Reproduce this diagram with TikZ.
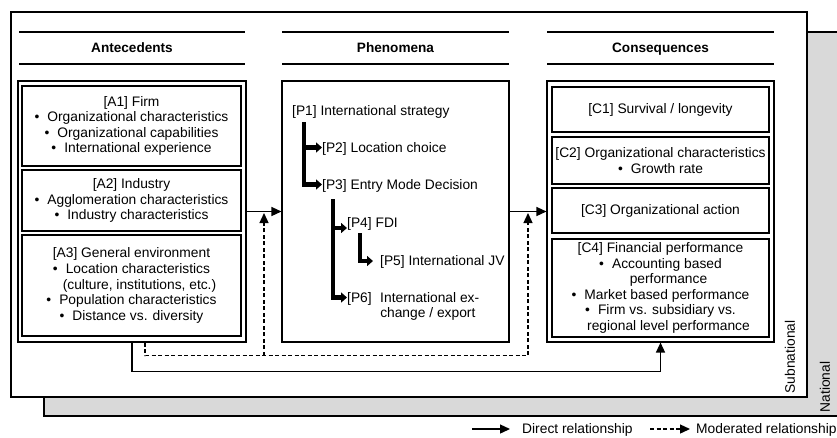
\documentclass[tikz,border=0pt]{standalone}
\usepackage{fontspec}
\setmainfont{Liberation Sans}
\usetikzlibrary{arrows.meta,calc}
\definecolor{natgray}{RGB}{217,217,217}
\newcommand{\mybul}{\textbullet\hspace{8pt}}
\tikzset{
 txt/.style={font=\fontsize{13.8}{15.6}\selectfont, inner sep=0pt},
 hdr/.style={font=\fontsize{13.6}{15.6}\selectfont\bfseries, inner sep=0pt, anchor=base},
 frame/.style={draw, line width=1.1pt, inner sep=0pt},
 ibox/.style={frame, txt, align=center, minimum width=219pt},
 cbox/.style={frame, txt, align=center, minimum width=217pt},
 arr/.style={line width=1.3pt, -{Triangle[length=10pt,width=9pt]}},
 modarr/.style={line width=1.3pt, dash pattern=on 4pt off 2.5pt, -{Triangle[length=10pt,width=9pt]}},
 bar/.style={line width=4.5pt, -{Triangle[length=6pt,width=10pt]}},
 hline/.style={line width=1.3pt},
}
\begin{document}
\begin{tikzpicture}[x=1pt,y=-1pt]
\useasboundingbox (0,0) rectangle (837,437);
% levels
\draw[line width=1.1pt, fill=natgray] (44,32) rectangle (845,416);
\draw[line width=1.1pt, fill=white] (11,12) rectangle (807,397);
\node[txt, rotate=90] (sub) at (790,357) {Subnational};
\node[txt, rotate=90] (nat) at (825,387) {National};
% headers
\draw[hline] (19,32) -- (245,32);
\draw[hline] (19,64) -- (245,64);
\draw[hline] (282,32) -- (509,32);
\draw[hline] (282,64) -- (509,64);
\draw[hline] (547,32) -- (774,32);
\draw[hline] (547,64) -- (774,64);
\node[hdr] (hA) at (132,52) {Antecedents};
\node[hdr] (hP) at (395.5,52) {Phenomena};
\node[hdr] (hC) at (660.5,52) {Consequences};
% antecedents
\node[frame, minimum width=228pt, minimum height=261pt] (ante) at (132,211.5) {};
\node[ibox, minimum height=80pt] (a1) at (131.5,126) {[A1] Firm\\ \mybul Organizational characteristics\\ \mybul Organizational capabilities\\ \mybul International experience};
\node[ibox, minimum height=61pt] (a2) at (131.5,200.5) {[A2] Industry\\ \mybul Agglomeration characteristics\\ \mybul Industry characteristics};
\node[ibox, minimum height=101pt] (a3) at (131.5,285.5) {[A3] General environment\\ \mybul Location characteristics\\ \hspace*{16pt}(culture, institutions, etc.)\\ \mybul Population characteristics\\ \mybul Distance vs. diversity};
% phenomena
\node[frame, minimum width=227pt, minimum height=261pt] (phen) at (395.5,211.5) {};
\node[txt, anchor=base west] (p1) at (292,115) {[P1] International strategy};
\node[txt, anchor=base west] (p2) at (322,152) {[P2] Location choice};
\node[txt, anchor=base west] (p3) at (322,189) {[P3] Entry Mode Decision};
\node[txt, anchor=base west] (p4) at (347,227) {[P4] FDI};
\node[txt, anchor=base west] (p5) at (380,265) {[P5] International JV};
\node[txt, anchor=base west] (p6) at (347,302) {[P6]\hspace{8.5pt}\begin{tabular}[t]{@{}l@{}}International ex-\\change / export\end{tabular}};
\coordinate (b1) at ([xshift=12pt,yshift=-4pt]p1.south west);
\coordinate (t2) at ([yshift=4.5pt]p2.base west);
\coordinate (t3) at ([yshift=4.5pt]p3.base west);
\draw[bar] (b1) |- (t3);
\draw[bar] (b1 |- t2) -- (t2);
\coordinate (b2) at ([xshift=11pt,yshift=-7pt]p3.south west);
\coordinate (t4) at ([yshift=-1pt]p4.base west);
\coordinate (t6) at ([yshift=4.5pt]p6.base west);
\draw[bar] (b2) |- (t6);
\draw[bar] (b2 |- t4) -- (t4);
\coordinate (b3) at ([xshift=13pt,yshift=-3pt]p4.south west);
\coordinate (t5) at ([xshift=-7pt,yshift=4pt]p5.base west);
\draw[bar] (b3) |- (t5);
% consequences
\node[frame, minimum width=227pt, minimum height=261pt] (cons) at (660.5,211.5) {};
\node[cbox, minimum height=45pt] (c1) at (660.5,109.5) {[C1] Survival / longevity};
\node[cbox, minimum height=47pt] (c2) at (660.5,160.5) {[C2] Organizational characteristics\\ \mybul Growth rate};
\node[cbox, minimum height=45pt] (c3) at (660.5,210.5) {[C3] Organizational action};
\node[cbox, minimum height=98pt] (c4) at (660.5,288) {[C4] Financial performance\\ \mybul Accounting based\\ \hspace*{16pt}performance\\ \mybul Market based performance\\ \mybul Firm vs. subsidiary vs.\\ \hspace*{16pt}regional level performance};
% relationships
\draw[arr] (ante.east) -- (phen.west);
\draw[arr] (phen.east) -- (cons.west);
\coordinate (m1) at ($(ante.east)!.5!(phen.west)+(0,1.5)$);
\coordinate (m2) at ($(phen.east)!.5!(cons.west)+(0,1.5)$);
\draw[modarr] ([xshift=13pt]ante.south) -- ++(0,13) coordinate (dc) -| (m2);
\draw[modarr] (dc -| m1) -- (m1);
\draw[arr] (ante.south) -- ++(0,29) -| (cons.south);
% legend
\node[txt, anchor=base west] (l1) at (522,433.5) {Direct relationship};
\node[txt, anchor=base west] (l2) at (696,433.5) {Moderated relationship};
\draw[arr] ([xshift=-50pt,yshift=4.5pt]l1.base west) -- ([xshift=-12pt,yshift=4.5pt]l1.base west);
\draw[modarr] ([xshift=-46pt,yshift=4.5pt]l2.base west) -- ([xshift=-6pt,yshift=4.5pt]l2.base west);
\end{tikzpicture}
\end{document}
